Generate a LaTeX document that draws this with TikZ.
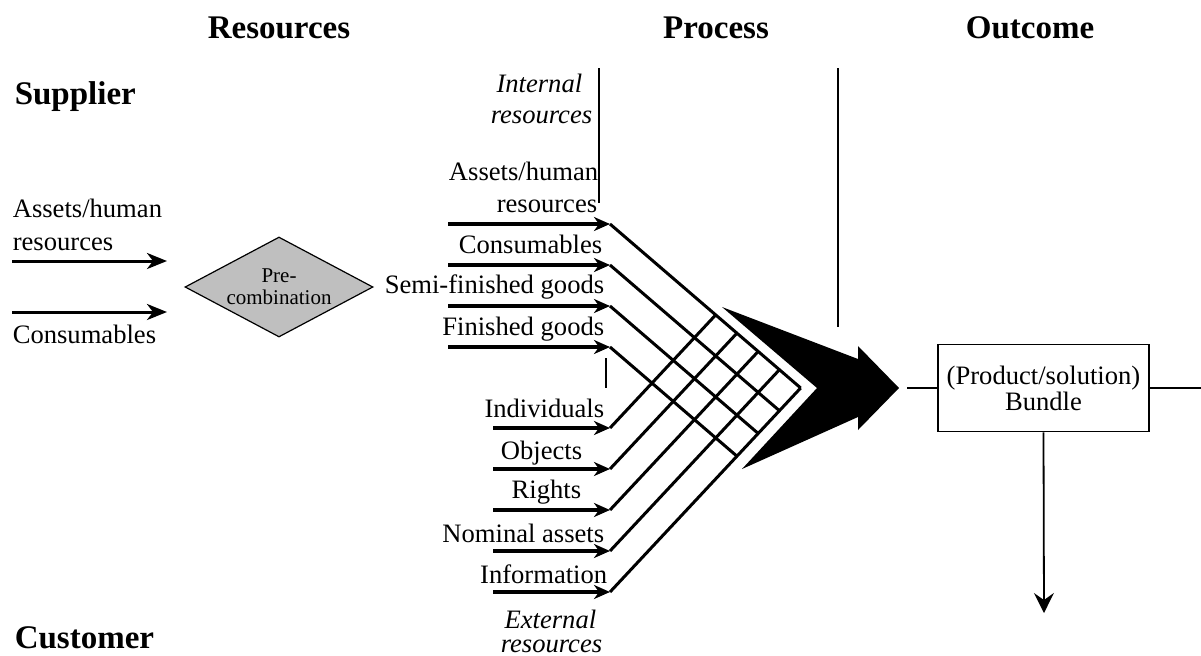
\documentclass[tikz,border=0pt]{standalone}
\usepackage{fontspec}
\setmainfont{Liberation Serif}
\usepackage{tikz}
\usetikzlibrary{arrows.meta}
\usetikzlibrary{shapes.geometric}

\tikzset{
	heading/.style={font=\fontsize{16.5}{20}\selectfont\bfseries, inner sep=0pt, anchor=base},
	txt/.style={font=\fontsize{13.3}{16}\selectfont, inner sep=0pt, anchor=base east},
	txtit/.style={txt, font=\fontsize{13.3}{16}\selectfont\itshape},
	suparrow/.style={line width=1.5pt, -{Stealth[length=10pt,width=8pt,inset=3pt]}},
	resarrow/.style={line width=1.6pt, -{Stealth[length=8pt,width=7pt,inset=2.5pt]}},
	lattice/.style={line width=1.5pt},
	divider/.style={line width=0.9pt},
}

\begin{document}
\begin{tikzpicture}[x=0.5pt, y=-0.5pt, thick, color=black]
		\useasboundingbox (0,0) rectangle (1201,655);
		
		% headings
		\node[heading] (res) at (279,38) {Resources};
		\node[heading] (proc) at (716,38) {Process};
		\node[heading] (outc) at (1030,38) {Outcome};
		\node[heading, anchor=base west] (supp) at (14,104) {Supplier};
		\node[heading, anchor=base west] (cust) at (14,648) {Customer};
		
		% supplier side
		\begin{scope}[txt/.append style={anchor=base west}]
			\node[txt] (sah) at (12,217) {Assets/human};
			\node[txt] (sres) at (12,250) {resources};
			\node[txt] (scons) at (12,343) {Consumables};
		\end{scope}
		\coordinate (sa1) at (12,261);
		\coordinate (sa1e) at (167,261);
		\coordinate (sa2) at (12,312);
		\coordinate (sa2e) at (167,312);
		\draw[suparrow] (sa1) -- (sa1e);
		\draw[suparrow] (sa2) -- (sa2e);
		
		\node[diamond, draw, fill=gray!50, line width=0.6pt, aspect=1.9, inner sep=0pt,
			minimum width=94pt, minimum height=50pt, align=center,
			font=\fontsize{10.5}{11}\selectfont] (precomb) at (279,287) {Pre-\\combination};
		
		% internal resources
		\node[txtit] (intl) at (583,92) {Internal};
		\node[txtit] (intres) at (593,123) {resources};
		\node[txt] (iah) at (599,180) {Assets/human};
		\node[txt] (iahres) at (598,212) {resources};
		\node[txt] (icons) at (603,253) {Consumables};
		\node[txt] (isemi) at (605,293) {Semi-finished goods};
		\node[txt] (ifin) at (605,335) {Finished goods};
		
		% external resources
		\node[txt] (eind) at (605,417) {Individuals};
		\node[txt] (eobj) at (583,459) {Objects};
		\node[txt] (erig) at (582,498) {Rights};
		\node[txt] (enom) at (605,542) {Nominal assets};
		\node[txt] (einf) at (608,583) {Information};
		\node[txtit] (extl) at (597,628) {External};
		\node[txtit] (extres) at (603,652) {resources};
		
		% dividers
		\coordinate (divtop) at (599,68);
		\coordinate (divbot) at (599,203);
		\coordinate (divlow) at (606,358);
		\coordinate (divlowe) at (606,388);
		\coordinate (proctop) at (838,68);
		\coordinate (procbot) at (838,327);
		\draw[divider] (divtop) -- (divbot);
		\draw[divider] (divlow) -- (divlowe);
		\draw[divider] (proctop) -- (procbot);
		
		% arrows and lattice
		\foreach \y [count=\i] in {224,265,306,347} {
			\coordinate (ins\i) at (448,\y);
			\coordinate (in\i) at (610,\y);
			\draw[resarrow] (ins\i) -- (in\i);
			\draw[lattice] (in\i) -- ++({(592-\y)/1.93},{0.86*(592-\y)/1.93});
		}
		\foreach \y [count=\i] in {428,469,510,551,592} {
			\coordinate (exs\i) at (493,\y);
			\coordinate (ex\i) at (610,\y);
			\draw[resarrow] (exs\i) -- (ex\i);
			\draw[lattice] (ex\i) -- ++({(\y-224)/1.93},{-1.07*(\y-224)/1.93});
		}
		
		% combination arrow
		\fill (722,307) -- (858,359) -- (858,346) -- (899,388) -- (858,430)
			-- (858,417) -- (742,469) -- (817,388) -- cycle;
		
		% outcome
		\node[draw, line width=0.8pt, minimum width=105.5pt, minimum height=43.5pt,
			align=center, font=\fontsize{13.3}{12}\selectfont] (bundle) at (1043.5,388)
			{(Product/solution)\\Bundle};
		\coordinate (outstart) at (907,388);
		\coordinate (outend) at (1201,388);
		\coordinate (custout) at (1044,613);
		\draw[divider] (outstart) -- (bundle.west);
		\draw[divider] (bundle.east) -- (outend);
		\draw[divider, -{Stealth[length=10pt,width=10pt,inset=3.5pt]}] (bundle.south) -- (custout);
	\end{tikzpicture}
\end{document}
